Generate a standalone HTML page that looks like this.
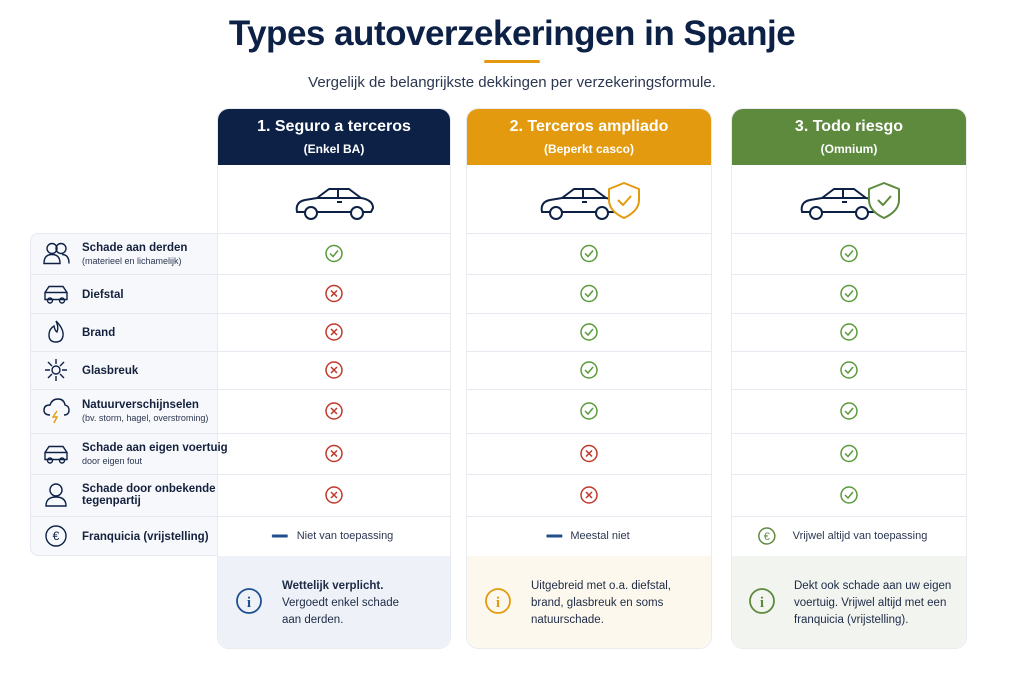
<!DOCTYPE html>
<html><head><meta charset="utf-8"><style>
*{box-sizing:border-box;margin:0;padding:0}
body{width:1024px;height:683px;background:#fff;font-family:"Liberation Sans",sans-serif;color:#14213d;position:relative;overflow:hidden}
.abs{position:absolute}
h1{position:absolute;left:0;width:1024px;top:14px;text-align:center;font-size:35px;font-weight:bold;color:#0d2147;letter-spacing:-0.5px}
.sub{position:absolute;left:0;width:1024px;top:74px;text-align:center;font-size:15px;color:#2b3650}
.col{position:absolute;top:108px;background:#fff;border:1px solid #e8ebf0;border-radius:12px;overflow:hidden}
.hdr{height:56px;color:#fff;text-align:center;padding-top:9px}
.hdr .t{font-size:16px;font-weight:bold}
.hdr .s{font-size:12px;font-weight:bold;margin-top:6px}
.lab{position:absolute;left:30px;top:233px;width:189px;height:323px;background:#f7f8fb;border:1px solid #e6e9ef;border-radius:8px 0 0 8px}
.lt{position:absolute;left:82px;font-size:11.5px;font-weight:bold;color:#14213d;white-space:nowrap}
.ls{font-size:9px;font-weight:normal;color:#2b3650;display:block;margin-top:2px}
.info{position:absolute;top:556px;height:92px;border-radius:0 0 12px 12px;font-size:11.5px;line-height:17px;color:#1d2a45}
#svg{z-index:2}
</style></head><body>
<h1>Types autoverzekeringen in Spanje</h1>
<div class="abs" style="left:484px;top:60px;width:56px;height:3px;background:#e39a10;border-radius:2px"></div>
<div class="sub">Vergelijk de belangrijkste dekkingen per verzekeringsformule.</div>

<div class="lab"></div>

<div class="col" style="left:217px;width:234px;height:541px">
 <div class="hdr" style="background:#0d2147"><div class="t">1. Seguro a terceros</div><div class="s">(Enkel BA)</div></div>
</div>
<div class="col" style="left:466px;width:246px;height:541px">
 <div class="hdr" style="background:#e39a0e"><div class="t">2. Terceros ampliado</div><div class="s">(Beperkt casco)</div></div>
</div>
<div class="col" style="left:731px;width:236px;height:541px">
 <div class="hdr" style="background:#5e8a3e"><div class="t">3. Todo riesgo</div><div class="s">(Omnium)</div></div>
</div>

<div class="info" style="left:218px;width:232px;background:#eef2f8;padding:22px 0 0 64px"><b>Wettelijk verplicht.</b><br>Vergoedt enkel schade<br>aan derden.</div>
<div class="info" style="left:467px;width:244px;background:#fdf8ee;padding:22px 0 0 64px">Uitgebreid met o.a. diefstal,<br>brand, glasbreuk en soms<br>natuurschade.</div>
<div class="info" style="left:732px;width:234px;background:#f2f4f0;padding:22px 0 0 62px">Dekt ook schade aan uw eigen<br>voertuig. Vrijwel altijd met een<br>franquicia (vrijstelling).</div>

<svg class="abs" style="left:0;top:0" width="1024" height="683" id="svg"></svg>

<div id="labels" style="position:absolute;left:0;top:0;z-index:3"></div>
<script>
const rowLabels=["Schade aan derden","Diefstal","Brand","Glasbreuk","Natuurverschijnselen","Schade aan eigen voertuig","Schade door onbekende tegenpartij","Franquicia (vrijstelling)"];
const rowSubs=["(materieel en lichamelijk)","","","","(bv. storm, hagel, overstroming)","door eigen fout","",""];
const terceros=[1,0,0,0,0,0,0];
const ampliado=[1,1,1,1,1,0,0];
const todoRiesgo=[1,1,1,1,1,1,1];
const franquicia=["Niet van toepassing","Meestal niet","Vrijwel altijd van toepassing"];
const rowEdges=[233,274,313,351,389,433,474,516,556];
const colX=[[218,450],[467,711],[732,966]];
const NS="http://www.w3.org/2000/svg";
const svg=document.getElementById('svg');
function el(t,a,p){const e=document.createElementNS(NS,t);for(const k in a)e.setAttribute(k,a[k]);(p||svg).appendChild(e);return e;}
const segs=[[30,450],[467,711],[732,966]];
for(let i=0;i<rowEdges.length-1;i++){
 segs.forEach(s=>{
  const l=el('line',{x1:(i===0&&s[0]===30)?218:s[0],x2:s[1],y1:rowEdges[i]+0.5,y2:rowEdges[i]+0.5,stroke:'#e6e9ef'});
  
  
 });
}
function car(cx,cy,acc){
 const g=el('g',{transform:`translate(${cx},${cy})`,fill:'none',stroke:'#0d2147','stroke-width':2,'stroke-linejoin':'round'});
 
 
 el('path',{d:'M-28 8 L-38 8 Q-40 -2 -30 -4 L-18 -6 L-6 -15 L14 -15 L26 -6 Q38 -4 38 4 L36 8 L28 8 M-20 8 L16 8 M-18 -6 L26 -6 M3 -15 L3 -6 M2 -2 L7 -2'},g);
 el('circle',{cx:-24,cy:9,r:6,fill:'#fff'},g);el('circle',{cx:22,cy:9,r:6,fill:'#fff'},g);
 if(acc){const s=el('g',{transform:'translate(44,-4)'},g);
  el('path',{d:'M0 -17 L15 -11 L15 0 Q15 11 0 18 Q-15 11 -15 0 L-15 -11 Z',stroke:acc,fill:'#fff'},s);
  el('path',{d:'M-6 0 L-1 5 L7 -4',stroke:acc},s);}
}
car(335,204,null);car(580,204,'#e39a0e');car(840,204,'#5e8a3e');
function mark(cx,cy,ok){
 const g=el('g',{fill:'none','stroke-width':1.5});
 
 
 const c=ok?'#5a9a3a':'#c0392b';
 el('circle',{cx,cy,r:8,stroke:c},g);
 if(ok)el('path',{d:`M${cx-4} ${cy} L${cx-1} ${cy+3} L${cx+4} ${cy-3}`,stroke:c},g);
 else el('path',{d:`M${cx-3} ${cy-3} L${cx+3} ${cy+3} M${cx+3} ${cy-3} L${cx-3} ${cy+3}`,stroke:c},g);
}
[terceros,ampliado,todoRiesgo].forEach((arr,ci)=>{
 const cx=(colX[ci][0]+colX[ci][1])/2;
 arr.forEach((v,ri)=>mark(cx,(rowEdges[ri]+rowEdges[ri+1])/2,v===1));
});
const fy=(rowEdges[7]+rowEdges[8])/2;
const labels=document.getElementById('labels');
franquicia.forEach((t,ci)=>{
 const cx=(colX[ci][0]+colX[ci][1])/2;
 const d=document.createElement('div');
 
 
 d.className='abs';d.style.cssText=`left:${cx-100}px;width:200px;top:${fy-6}px;text-align:center;font-size:11px;color:#2b3650;padding-left:22px`;
 d.textContent=t;labels.appendChild(d);
 const w=t.length*5.6;
 const ix=cx-w/2+11-12;
 if(ci<2)el('rect',{x:ix-8,y:fy-1.5,width:16,height:3,fill:'#1f4f8f',rx:1});
 else{const g=el('g',{});el('circle',{cx:ix,cy:fy,r:8,fill:'none',stroke:'#5e8a3e','stroke-width':1.5},g);
  const tx=el('text',{x:ix,y:fy+4,'text-anchor':'middle','font-size':11,fill:'#5e8a3e','font-family':'Liberation Sans'},g);tx.textContent='€';}
});
[[249,'#1f4f8f'],[498,'#e39a0e'],[762,'#5e8a3e']].forEach(([x,c])=>{
 const g=el('g',{});
 
 
 el('circle',{cx:x,cy:601,r:12,fill:'none',stroke:c,'stroke-width':1.8},g);
 const t=el('text',{x:x,y:607,'text-anchor':'middle','font-size':15,'font-weight':'bold',fill:c,'font-family':'Liberation Serif'},g);t.textContent='i';
});
rowLabels.forEach((t,i)=>{
 const cy=(rowEdges[i]+rowEdges[i+1])/2;
 const d=document.createElement('div');
 d.className='lt';
 
 
 const twoLine=i===6;
 d.style.top=(cy-(rowSubs[i]||twoLine?12:5))+'px';
 d.innerHTML=(twoLine?'Schade door onbekende<br>tegenpartij':t)+(rowSubs[i]?`<span class="ls">${rowSubs[i]}</span>`:'');
 labels.appendChild(d);
 const g=el('g',{fill:'none',stroke:'#0d2147','stroke-width':1.4,transform:`translate(56,${cy})`});
 
 
 if(i===0){el('circle',{cx:-4,cy:-5,r:5},g);el('circle',{cx:5,cy:-5,r:5},g);el('path',{d:'M-12 10 Q-12 1 -4 1 Q4 1 4 10 Z M6 1 Q13 1 13 10'},g);}
 else if(i===1||i===5){el('path',{d:'M-11 6 L-11 -1 L-7 -7 L7 -7 L11 -1 L11 6 Z M-11 -1 L11 -1'},g);el('circle',{cx:-6,cy:7,r:2.5},g);el('circle',{cx:6,cy:7,r:2.5},g);}
 else if(i===2){el('path',{d:'M0 -11 Q8 -3 7 4 Q6 10 0 10 Q-7 10 -7 3 Q-7 -3 -2 -6 Q-1 -1 1 0 Q3 -5 0 -11 Z'},g);}
 else if(i===3){el('circle',{cx:0,cy:0,r:4},g);el('path',{d:'M0 -11 L0 -6 M0 6 L0 11 M-11 0 L-6 0 M6 0 L11 0 M-8 -8 L-4 -4 M4 4 L8 8 M8 -8 L4 -4 M-4 4 L-8 8'},g);}
 else if(i===4){el('path',{d:'M-6 4 Q-12 4 -12 -1 Q-12 -6 -6 -6 Q-4 -12 2 -12 Q8 -12 9 -6 Q13 -5 13 -1 Q13 4 8 4'},g);el('path',{d:'M1 0 L-3 6 L1 6 L-2 12',stroke:'#e39a0e'},g);}
 else if(i===6){el('circle',{cx:0,cy:-5,r:6},g);el('path',{d:'M-10 11 Q-10 2 0 2 Q10 2 10 11 Z'},g);}
 else {el('circle',{cx:0,cy:0,r:10},g);const tx=el('text',{x:0,y:4,'text-anchor':'middle','font-size':12,fill:'#0d2147',stroke:'none','font-family':'Liberation Sans'},g);tx.textContent='€';}
});
</script>
</body></html>
